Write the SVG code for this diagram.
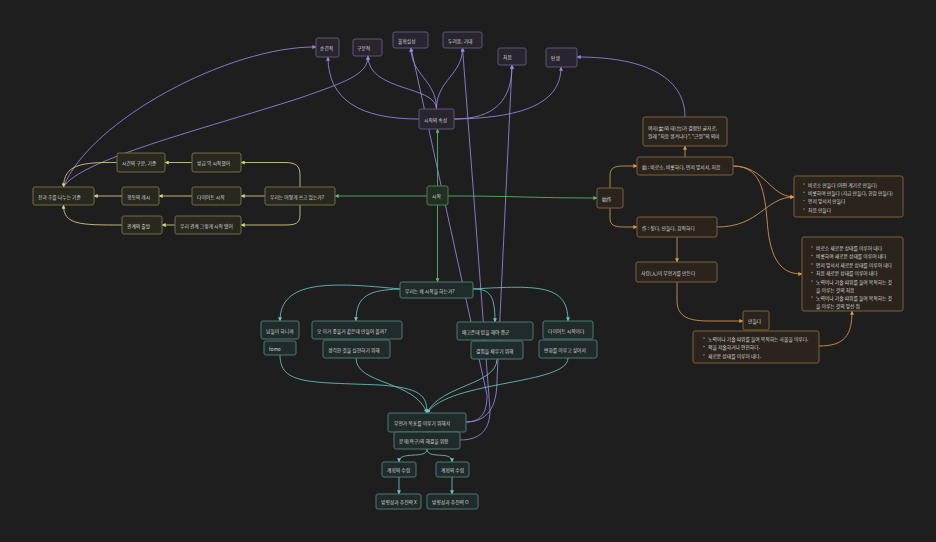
<svg xmlns="http://www.w3.org/2000/svg" width="936" height="542" viewBox="0 0 936 542">
<style>
text{font-family:"Noto Sans CJK KR","Noto Sans",sans-serif;font-size:4.8px;fill:#d8d8d8;dominant-baseline:central}
rect{stroke-width:1}
.pu rect{fill:#28252f;stroke:#5f577a}
.gr rect{fill:#223022;stroke:#4c7c50}
.ye rect{fill:#28281f;stroke:#6f6d46}
.or rect{fill:#2b241d;stroke:#7d6139}
.te rect{fill:#202b2b;stroke:#4a7876}
.dot{fill:#a0a0a0}
#edges path{fill:none;stroke-width:0.85}
.ep{stroke:#9a86e0}.eg{stroke:#5db86b}.ey{stroke:#d8d386}.eo{stroke:#d99a4e}.et{stroke:#6cc4bf}
</style>
<defs>
<marker id="mp" viewBox="0 0 6 6" refX="5.5" refY="3" markerWidth="4" markerHeight="4" markerUnits="userSpaceOnUse" orient="auto"><path d="M0,0L6,3L0,6z" fill="#9a86e0"/></marker>
<marker id="mg" viewBox="0 0 6 6" refX="5.5" refY="3" markerWidth="4" markerHeight="4" markerUnits="userSpaceOnUse" orient="auto"><path d="M0,0L6,3L0,6z" fill="#5db86b"/></marker>
<marker id="my" viewBox="0 0 6 6" refX="5.5" refY="3" markerWidth="4" markerHeight="4" markerUnits="userSpaceOnUse" orient="auto"><path d="M0,0L6,3L0,6z" fill="#d8d386"/></marker>
<marker id="mo" viewBox="0 0 6 6" refX="5.5" refY="3" markerWidth="4" markerHeight="4" markerUnits="userSpaceOnUse" orient="auto"><path d="M0,0L6,3L0,6z" fill="#d99a4e"/></marker>
<marker id="mt" viewBox="0 0 6 6" refX="5.5" refY="3" markerWidth="4" markerHeight="4" markerUnits="userSpaceOnUse" orient="auto"><path d="M0,0L6,3L0,6z" fill="#6cc4bf"/></marker>
</defs>
<rect width="936" height="542" fill="#1e1e1e" stroke="none"/>

<g id="edges">
<!-- purple -->
<path class="ep" marker-end="url(#mp)" d="M419,119 C360,119 328,100 328,57"/>
<path class="ep" marker-end="url(#mp)" d="M436.5,109 C436,85 368,92 368,56"/>
<path class="ep" marker-end="url(#mp)" d="M436.5,109 C436.5,80 411,75 411,48"/>
<path class="ep" marker-end="url(#mp)" d="M436.5,109 C436.5,80 462.5,75 462.5,48"/>
<path class="ep" marker-end="url(#mp)" d="M454,119 C495,119 512,100 512,65"/>
<path class="ep" marker-end="url(#mp)" d="M454,119 C530,118 561,100 561,67"/>
<path class="ep" marker-end="url(#mp)" d="M63.5,187 C90,120 230,46 316,47"/>
<path class="ep" marker-end="url(#mp)" d="M63.5,187 C80,160 200,130 300,98 C345,82 368,75 368,56"/>
<path class="ep" marker-end="url(#mp)" d="M685,117 C685,80 650,57 577,57"/>
<path class="ep" marker-end="url(#mp)" d="M466,422 C483,422 487,410 487,395 L411,48"/>
<path class="ep" marker-end="url(#mp)" d="M466,422 C492,422 497,400 497,380 L512,65"/>
<path class="ep" marker-end="url(#mp)" d="M460,440 C480,440 490,430 490,410 L462.5,48"/>
<!-- green -->
<path class="eg" marker-end="url(#mg)" d="M437.5,186 L437.5,129"/>
<path class="eg" marker-end="url(#mg)" d="M427,196 L335,196"/>
<path class="eg" marker-end="url(#mg)" d="M448,196 C520,196 530,198 597,198"/>
<path class="eg" marker-end="url(#mg)" d="M437.5,205 L437.5,282"/>
<!-- yellow -->
<path class="ey" marker-end="url(#my)" d="M300,187 L300,175 C300,166 296,162.5 285,162.5 L241,162.5"/>
<path class="ey" marker-end="url(#my)" d="M265,196 L241,196"/>
<path class="ey" marker-end="url(#my)" d="M300,205 L300,215 C300,223 296,225 285,225 L241,225"/>
<path class="ey" marker-end="url(#my)" d="M192,162.5 L165,162.5"/>
<path class="ey" marker-end="url(#my)" d="M192,196 L159,196"/>
<path class="ey" marker-end="url(#my)" d="M175,225 L162,225"/>
<path class="ey" marker-end="url(#my)" d="M117,162.5 C80,162 64,165 63.5,187"/>
<path class="ey" marker-end="url(#my)" d="M122,196 L94,196"/>
<path class="ey" marker-end="url(#my)" d="M122,225 C80,225 63.5,225 63.5,205"/>
<!-- orange -->
<path class="eo" marker-end="url(#mo)" d="M610,188 L610,176 C610,168 614,166 624,166 L637,166"/>
<path class="eo" marker-end="url(#mo)" d="M610,208 L610,218 C610,225 614,227 624,227 L637,227"/>
<path class="eo" marker-end="url(#mo)" d="M685,157 L685,146"/>
<path class="eo" marker-end="url(#mo)" d="M733,166 C765,166 770,197 794,197"/>
<path class="eo" marker-end="url(#mo)" d="M717,227 C760,227 765,197 794,197"/>
<path class="eo" marker-end="url(#mo)" d="M733,166 C765,166 765,200 768,230 C772,265 785,274 802,274"/>
<path class="eo" marker-end="url(#mo)" d="M677,237 L677,262"/>
<path class="eo" marker-end="url(#mo)" d="M677,282 L677,300 C677,318 690,321 710,321 L743,321"/>
<path class="eo" marker-end="url(#mo)" d="M819,346 C845,346 852,335 852,311"/>
<!-- teal -->
<path class="et" marker-end="url(#mt)" d="M400,289 C330,282 280,280 280,321"/>
<path class="et" marker-end="url(#mt)" d="M400,289 C370,290 356,295 356,321"/>
<path class="et" marker-end="url(#mt)" d="M473,289 C490,289 495,295 495,322"/>
<path class="et" marker-end="url(#mt)" d="M473,289 C540,285 568,285 568,321"/>
<path class="et" marker-end="url(#mt)" d="M280,355 C280,385 310,382 380,385 C420,388 427,395 427,413"/>
<path class="et" marker-end="url(#mt)" d="M356,358 C356,385 415,380 427,413"/>
<path class="et" marker-end="url(#mt)" d="M497,359 C497,385 440,385 427,413"/>
<path class="et" marker-end="url(#mt)" d="M568,358 C568,385 450,380 427,413"/>
<path class="et" marker-end="url(#mt)" d="M427,449 C427,460 399,450 399,462"/>
<path class="et" marker-end="url(#mt)" d="M427,449 C427,460 452,450 452,462"/>
<path class="et" marker-end="url(#mt)" d="M399,477 L399,494"/>
<path class="et" marker-end="url(#mt)" d="M452,477 L452,494"/>
</g>

<g id="p1" class="pu"><rect x="316" y="38" width="23" height="19" rx="2"/><text x="320" y="47.5">순간적</text></g>
<g id="p2" class="pu"><rect x="353" y="39" width="29" height="17" rx="2"/><text x="357" y="47.5">구분적</text></g>
<g id="p3" class="pu"><rect x="393" y="32" width="35" height="16" rx="2"/><text x="398" y="40">불확실성</text></g>
<g id="p4" class="pu"><rect x="443" y="32" width="39" height="16" rx="2"/><text x="448" y="40">두려움, 기대</text></g>
<g id="p5" class="pu"><rect x="498" y="48" width="28" height="17" rx="2"/><text x="503" y="56.5">처음</text></g>
<g id="p6" class="pu"><rect x="546" y="48" width="31" height="19" rx="2"/><text x="551" y="57.5">탄생</text></g>
<g id="p7" class="pu"><rect x="419" y="109" width="35" height="20" rx="2"/><text x="424" y="119">시작의 속성</text></g>

<g id="g1" class="gr"><rect x="427" y="186" width="21" height="19" rx="2"/><text x="432" y="195.5">시작</text></g>

<g id="y1" class="ye"><rect x="265" y="187" width="70" height="18" rx="2"/><text x="270" y="196">우리는 어떻게 쓰고 있는가?</text></g>
<g id="y2" class="ye"><rect x="192" y="153" width="49" height="19" rx="2"/><text x="197" y="162.5">방금 막 시작했어</text></g>
<g id="y3" class="ye"><rect x="192" y="187" width="49" height="18" rx="2"/><text x="197" y="196">다이어트 시작</text></g>
<g id="y4" class="ye"><rect x="175" y="216" width="66" height="18" rx="2"/><text x="180" y="225">우리 관계 그렇게 시작 됐어</text></g>
<g id="y5" class="ye"><rect x="117" y="153" width="48" height="19" rx="2"/><text x="122" y="162.5">시간의 구분, 기준</text></g>
<g id="y6" class="ye"><rect x="122" y="187" width="37" height="18" rx="2"/><text x="127" y="196">행동의 개시</text></g>
<g id="y7" class="ye"><rect x="122" y="216" width="40" height="18" rx="2"/><text x="127" y="225">관계의 출발</text></g>
<g id="y8" class="ye"><rect x="33" y="187" width="61" height="18" rx="2"/><text x="38" y="196">전과 후를 나누는 기준</text></g>

<g id="o1" class="or"><rect x="597" y="188" width="26" height="20" rx="2"/><text x="602" y="198">始作</text></g>
<g id="o2" class="or"><rect x="643" y="117" width="84" height="29" rx="2"/><text x="648" y="127">여자(女)와 태(台)가 결합된 글자로,</text><text x="648" y="135">원래 "처음 생겨나다", "근원"의 의미</text></g>
<g id="o3" class="or"><rect x="637" y="157" width="96" height="18" rx="2"/><text x="642" y="166">始 : 비로소, 비롯하다, 먼저 앞서서, 처음</text></g>
<g id="o4" class="or"><rect x="637" y="217" width="80" height="20" rx="2"/><text x="642" y="227">作 : 짓다, 만들다, 창작하다</text></g>
<g id="o5" class="or"><rect x="794" y="176" width="109" height="41" rx="2"/>
<circle class="dot" cx="804" cy="184" r="0.7"/><text x="808" y="184">비로소 만들다 (어떤 계기로 만들다)</text>
<circle class="dot" cx="804" cy="192.3" r="0.7"/><text x="808" y="192.3">비롯하여 만들다 (지금 만들다, 한참 만들다)</text>
<circle class="dot" cx="804" cy="200.6" r="0.7"/><text x="808" y="200.6">먼저 앞서서 만들다</text>
<circle class="dot" cx="804" cy="209" r="0.7"/><text x="808" y="209">처음 만들다</text></g>
<g id="o6" class="or"><rect x="802" y="237" width="101" height="74" rx="2"/>
<circle class="dot" cx="812" cy="247" r="0.7"/><text x="816" y="247">비로소 새로운 상태를 이루어 내다</text>
<circle class="dot" cx="812" cy="255.5" r="0.7"/><text x="816" y="255.5">비롯하여 새로운 상태를 이루어 내다</text>
<circle class="dot" cx="812" cy="264" r="0.7"/><text x="816" y="264">먼저 앞서서 새로운 상태를 이루어 내다</text>
<circle class="dot" cx="812" cy="272.5" r="0.7"/><text x="816" y="272.5">처음 새로운 상태를 이루어 내다</text>
<circle class="dot" cx="812" cy="281" r="0.7"/><text x="816" y="281">노력이나 기술 따위를 들여 목적하는 것</text><text x="816" y="289">을 이루는 것의 처음</text>
<circle class="dot" cx="812" cy="297" r="0.7"/><text x="816" y="297">노력이나 기술 따위를 들여 목적하는 것</text><text x="816" y="305">을 이루는 것의 앞선 점</text></g>
<g id="o7" class="or"><rect x="636" y="262" width="81" height="20" rx="2"/><text x="641" y="272">사람(人)이 무언가를 만든다</text></g>
<g id="o8" class="or"><rect x="743" y="311" width="26" height="19" rx="2"/><text x="748" y="320.5">만들다</text></g>
<g id="o9" class="or"><rect x="693" y="331" width="126" height="32" rx="2"/>
<circle class="dot" cx="704" cy="338" r="0.7"/><text x="708" y="338">노력이나 기술 따위를 들여 목적하는 사물을 이루다.</text>
<circle class="dot" cx="704" cy="346.5" r="0.7"/><text x="708" y="346.5">책을 저술하거나 편찬하다.</text>
<circle class="dot" cx="704" cy="355" r="0.7"/><text x="708" y="355">새로운 상태를 이루어 내다.</text></g>

<g id="t1" class="te"><rect x="400" y="282" width="73" height="16" rx="2"/><text x="405" y="290">우리는 왜 시작을 하는가?</text></g>
<g id="t2" class="te"><rect x="261" y="321" width="38" height="18" rx="2"/><text x="266" y="330">남들이 하니까</text></g>
<g id="t3" class="te"><rect x="264" y="341" width="32" height="14" rx="2"/><text x="269" y="348">fomo</text></g>
<g id="t4" class="te"><rect x="312" y="321" width="90" height="18" rx="2"/><text x="317" y="330">오 이거 좋을거 같은데 만들어 볼까?</text></g>
<g id="t5" class="te"><rect x="323" y="340" width="67" height="18" rx="2"/><text x="328" y="349">생각한 것을 실현하기 위해</text></g>
<g id="t6" class="te"><rect x="457" y="322" width="76" height="18" rx="2"/><text x="462" y="331">배고픈데 밥을 해야 겠군</text></g>
<g id="t7" class="te"><rect x="471" y="341" width="52" height="18" rx="2"/><text x="476" y="350">결핍을 채우기 위해</text></g>
<g id="t8" class="te"><rect x="543" y="321" width="50" height="18" rx="2"/><text x="548" y="330">다이어트 시작이다</text></g>
<g id="t9" class="te"><rect x="539" y="340" width="58" height="18" rx="2"/><text x="544" y="349">변화를 이루고 싶어서</text></g>
<g id="t10" class="te"><rect x="388" y="413" width="78" height="19" rx="2"/><text x="394" y="422.5">무언가 목표를 이루기 위해서</text></g>
<g id="t11" class="te"><rect x="394" y="432" width="66" height="17" rx="2"/><text x="399" y="440.5">문제(욕구)의 해결을 위함</text></g>
<g id="t12" class="te"><rect x="382" y="462" width="34" height="15" rx="2"/><text x="387" y="469.5">계획의 수립</text></g>
<g id="t13" class="te"><rect x="436" y="462" width="33" height="15" rx="2"/><text x="441" y="469.5">계획의 수립</text></g>
<g id="t14" class="te"><rect x="376" y="494" width="45" height="15" rx="2"/><text x="381" y="501.5">방향성과 추진력 X</text></g>
<g id="t15" class="te"><rect x="427" y="494" width="51" height="15" rx="2"/><text x="432" y="501.5">방향성과 추진력 O</text></g>
</svg>
